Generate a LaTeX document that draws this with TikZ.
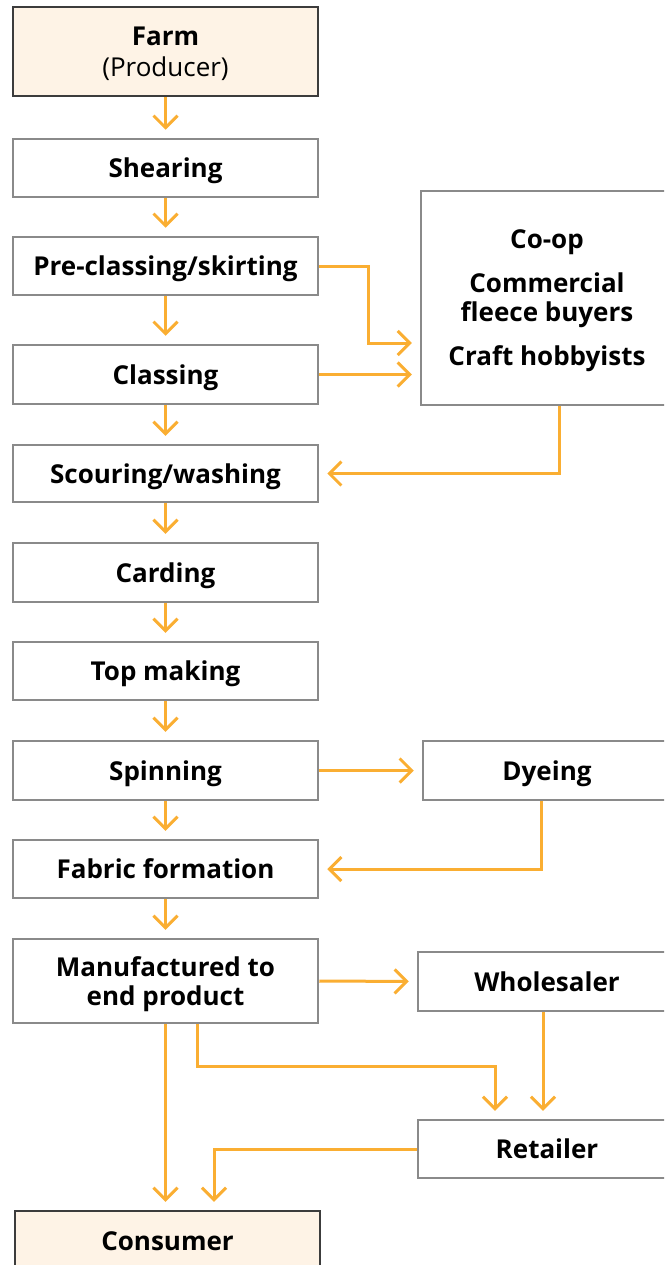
\documentclass[tikz,border=0pt]{standalone}
\usepackage{fontspec}
\setmainfont{Open Sans}
\usetikzlibrary{arrows.meta}
\definecolor{flowc}{RGB}{250,174,50}
\definecolor{boxc}{RGB}{138,138,138}
\definecolor{darkc}{RGB}{60,60,60}
\definecolor{cream}{RGB}{254,243,230}
\begin{document}
\begin{tikzpicture}[x=1pt,y=-1pt,
 box/.style={draw=boxc,line width=2.5pt,fill=white,inner sep=0pt,text depth=0pt,font=\fontsize{26}{29}\selectfont\bfseries,align=center},
 lbox/.style={box,minimum width=305pt},
 endbox/.style={lbox,draw=darkc,fill=cream},
 flow/.style={draw=flowc,line width=3pt,-{Straight Barb[length=12pt,width=24pt]},shorten >=8pt}]
\useasboundingbox (0,0) rectangle (664,1265);
\clip (0,0) rectangle (664,1265);
\node[endbox,minimum height=89pt] (farm) at (165.5,51.5) {Farm\\[2pt]{\mdseries (Producer)}};
\node[lbox,minimum height=58pt] (shear) at (165.5,168) {Shearing};
\node[lbox,minimum height=58pt] (pre) at (165.5,266) {Pre-classing/skirting};
\node[lbox,minimum height=59pt] (class) at (165.5,374.5) {Classing};
\node[lbox,minimum height=57pt] (scour) at (165.5,473.5) {Scouring/washing};
\node[lbox,minimum height=59pt] (card) at (165.5,572.5) {Carding};
\node[lbox,minimum height=58pt] (top) at (165.5,671) {Top making};
\node[lbox,minimum height=59pt] (spin) at (165.5,770.5) {Spinning};
\node[lbox,minimum height=58pt] (fabric) at (165.5,869) {Fabric formation};
\node[lbox,minimum height=84pt] (manuf) at (165.5,981) {Manufactured to\\end product};
\node[endbox,minimum height=60pt] (cons) at (167.5,1241) {Consumer};
\node[box,minimum width=252pt,minimum height=214pt] (coop) at (547,298) {Co-op\\[15pt]Commercial\\fleece buyers\\[15pt]Craft hobbyists};
\node[box,minimum width=248pt,minimum height=59pt] (dye) at (547,770.5) {Dyeing};
\node[box,minimum width=258pt,minimum height=59pt] (whole) at (547,981.5) {Wholesaler};
\node[box,minimum width=258pt,minimum height=58pt] (retail) at (547,1149) {Retailer};
\foreach \a/\b in {farm/shear,shear/pre,pre/class,class/scour,scour/card,card/top,top/spin,spin/fabric,fabric/manuf}
  \draw[flow] (\a.south) -- (\b.north);
\coordinate (pc) at (368,343);
\draw[flow] (pre.east) -| (pc) -- (coop.west |- pc);
\draw[flow] (class.east) -- (coop.west |- class.east);
\draw[flow] ([xshift=12pt]coop.south) |- (scour.east);
\draw[flow] (spin.east) -- (dye.west);
\draw[flow] ([xshift=-6pt]dye.south) |- (fabric.east);
\draw[flow] (manuf.east) -- (whole.west);
\draw[flow] (manuf.south) -- (manuf.south |- cons.north);
\draw[flow] ([xshift=31.5pt]manuf.south) -- ++(0,42) -| ([xshift=-52pt]retail.north);
\draw[flow] ([xshift=-4pt]whole.south) -- ([xshift=-4pt]retail.north);
\draw[flow] (retail.west) -| ([xshift=46.5pt]cons.north);
\end{tikzpicture}
\end{document}
